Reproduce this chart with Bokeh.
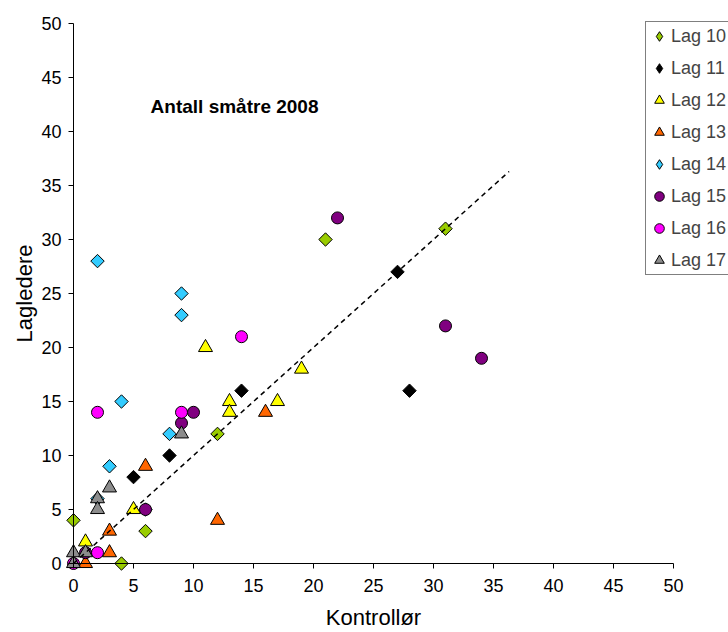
import math
from bokeh.plotting import figure
from bokeh.models import Range1d, FixedTicker, Label, Legend, LegendItem
from bokeh.embed import file_html
from bokeh.resources import INLINE

# ---------------- data ----------------
x_ticks = [0, 5, 10, 15, 20, 25, 30, 35, 40, 45, 50]
y_ticks = [0, 5, 10, 15, 20, 25, 30, 35, 40, 45, 50]

lag10_x = [0, 4, 6, 12, 21, 31]
lag10_y = [4, 0, 3, 12, 30, 31]

lag11_x = [5, 8, 14, 27, 28]
lag11_y = [8, 10, 16, 27, 16]

lag12_x = [1, 5, 11, 13, 13, 17, 19]
lag12_y = [2, 5, 20, 15, 14, 15, 18]

lag13_x = [1, 3, 3, 6, 12, 16]
lag13_y = [0, 1, 3, 9, 4, 14]

lag14_x = [2, 9, 9, 4, 8, 3, 2, 6]
lag14_y = [28, 25, 23, 15, 12, 9, 6, 5]

lag15_x = [22, 31, 34, 10, 9, 6, 1]
lag15_y = [32, 22, 19, 14, 13, 5, 1]

lag16_x = [2, 14, 9, 2, 0]
lag16_y = [14, 21, 14, 1, 0]

lag17_x = [9, 3, 2, 2, 0, 0, 1]
lag17_y = [12, 7, 6, 5, 0, 1, 1]

line_x = [0, 36.3]
line_y = [0, 36.3]

series_labels = ["Lag 10", "Lag 11", "Lag 12", "Lag 13", "Lag 14", "Lag 15", "Lag 16", "Lag 17"]
title_text = "Antall småtre 2008"
x_label = "Kontrollør"
y_label = "Lagledere"

# ---------------- styles ----------------
FONT = "Liberation Sans"
colors = ["#99CC00", "#000000", "#FFFF00", "#FF6600", "#33CCFF", "#800080", "#FF00FF", "#8C8C8C"]
shapes = ["diamond", "diamond", "triangle", "triangle", "diamond", "circle", "circle", "triangle"]
xs = [lag10_x, lag11_x, lag12_x, lag13_x, lag14_x, lag15_x, lag16_x, lag17_x]
ys = [lag10_y, lag11_y, lag12_y, lag13_y, lag14_y, lag15_y, lag16_y, lag17_y]

W, H = 728, 632
ORIGIN_X, ORIGIN_Y = 73, 563      # pixel position of (0, 0)
PX_X, PX_Y = 12.0, 10.8           # pixels per unit
x_start = -ORIGIN_X / PX_X
x_end = (W - ORIGIN_X) / PX_X
y_start = -(H - ORIGIN_Y) / PX_Y
y_end = 50 + 23 / PX_Y

p = figure(width=W, height=H, output_backend="svg", toolbar_location=None, title=None,
           x_range=Range1d(x_start, x_end), y_range=Range1d(y_start, y_end),
           min_border=0, min_border_left=0, min_border_right=0,
           min_border_top=0, min_border_bottom=0)
p.outline_line_color = None
p.xgrid.visible = False
p.ygrid.visible = False
p.background_fill_color = "white"
p.border_fill_color = "white"

for ax, ticks, lab in ((p.xaxis[0], x_ticks, x_label), (p.yaxis[0], y_ticks, y_label)):
    ax.fixed_location = 0
    ax.bounds = (0, 50)
    ax.ticker = FixedTicker(ticks=ticks)
    ax.major_tick_in = 0
    ax.major_tick_out = 5
    ax.minor_tick_line_color = None
    ax.axis_line_color = "black"
    ax.major_tick_line_color = "black"
    ax.major_label_text_font = FONT
    ax.major_label_text_font_size = "18px"
    ax.major_label_text_color = "black"
    ax.axis_label = lab
    ax.axis_label_text_font = FONT
    ax.axis_label_text_font_size = "22px"
    ax.axis_label_text_font_style = "normal"
    ax.axis_label_text_color = "black"

p.xaxis[0].major_label_standoff = 10
p.xaxis[0].axis_label_standoff = 10
p.yaxis[0].major_label_standoff = 7
p.yaxis[0].axis_label_standoff = 1

legend_renderers = []
for x, y, c, s in zip(xs, ys, colors, shapes):
    if s == "diamond":
        # small diamond used as legend glyph; hidden under the rotated square
        lr = p.scatter(x, y, marker="diamond", size=7, fill_color=c, line_color="black", line_width=1)
        p.scatter(x, y, marker="square", angle=math.pi / 4, size=9.5,
                  fill_color=c, line_color="black", line_width=1)
        legend_renderers.append(lr)
    elif s == "triangle":
        r = p.scatter(x, y, marker="triangle", size=14, fill_color=c, line_color="black", line_width=1)
        legend_renderers.append(r)
    else:
        r = p.scatter(x, y, marker="circle", size=12, fill_color=c, line_color="black", line_width=1)
        legend_renderers.append(r)

p.line(line_x, line_y, line_color="black", line_width=1.5, line_dash="5 4")

p.add_layout(Label(x=13.42, y=42.3, text=title_text, text_font=FONT, text_font_size="19px",
                   text_font_style="bold", text_align="center", text_baseline="middle",
                   text_color="black"))

legend = Legend(items=[LegendItem(label=lab, renderers=[r]) for lab, r in zip(series_labels, legend_renderers)],
                location=(645, 357), orientation="vertical",
                border_line_color="black", border_line_width=1,
                background_fill_color="white", background_fill_alpha=1.0,
                padding=1, margin=0, spacing=6,
                glyph_width=24, glyph_height=26, label_height=26, label_width=100,
                label_standoff=0, label_text_font=FONT, label_text_font_size="18px")
p.add_layout(legend, "center")

open("out.html", "w").write(file_html(p, INLINE))
